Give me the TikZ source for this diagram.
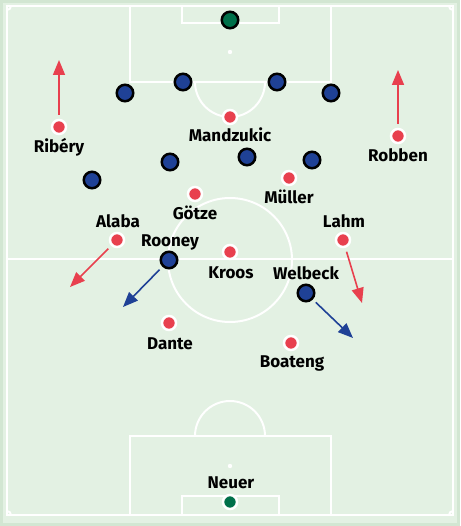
\documentclass[tikz,border=0pt]{standalone}
\usepackage{fontspec}
\setmainfont{Fira Sans}
\usetikzlibrary{arrows.meta}
\definecolor{rim}{HTML}{D2E6D2}
\definecolor{turf}{HTML}{E3F1E3}
\definecolor{fcb}{HTML}{E8404E}
\definecolor{mufc}{HTML}{1F4196}
\definecolor{keeper}{HTML}{00704A}
\begin{document}
\begin{tikzpicture}[x=1pt,y=-1pt,
	line/.style={white,line width=2pt},
	bay/.style={circle,fill=fcb,draw=white,line width=2.5pt,minimum size=14pt,inner sep=0pt},
	utd/.style={circle,fill=mufc,draw=black,line width=2.5pt,minimum size=16.5pt,inner sep=0pt},
	tag/.style={font=\fontsize{17}{20}\selectfont\bfseries,anchor=base,inner sep=0pt},
	run/.style={line width=1.6pt,-{Triangle[length=15pt,width=12pt]},shorten <=4pt}]
	% pitch
	\fill[rim] (0,0) rectangle (460,526);
	\fill[turf] (3,3) rectangle (457,523);
	\draw[line] (7,6) rectangle (453,515);
	\begin{scope}
		\clip (7,6) rectangle (453,515);
		\foreach \cx/\cy in {7/6,453/6,7/515,453/515}
			\draw[line] (\cx,\cy) circle (4);
	\end{scope}
	\draw[line] (7,259)--(453,259);
	\draw[line] (230,260) circle (62);
	\draw[line] (130,6) rectangle (331,82);
	\draw[line] (182,6) rectangle (279,23);
	\draw[line] (195,82) arc[start angle=180,end angle=0,radius=35];
	\fill[white] (230,52) circle (2.2);
	\draw[line] (130,515) rectangle (331,436);
	\draw[line] (182,515) rectangle (279,496);
	\draw[line] (195,436) arc[start angle=180,end angle=360,radius=35];
	\fill[white] (230,466) circle (2.2);
	% Manchester United
	\node[utd,fill=keeper] (dgea) at (230,20) {};
	\node[utd] (d1) at (125,93) {};
	\node[utd] (d2) at (183,82) {};
	\node[utd] (d3) at (277,82) {};
	\node[utd] (d4) at (331,93) {};
	\node[utd] (m1) at (92,180) {};
	\node[utd] (m2) at (170,162) {};
	\node[utd] (m3) at (247,157) {};
	\node[utd] (m4) at (312,160) {};
	\node[utd] (roo) at (169,260) {};
	\node[utd] (wel) at (306,293) {};
	% Bayern
	\node[bay] (rib) at (59,127) {};
	\node[bay] (man) at (230,117) {};
	\node[bay] (rob) at (398,136) {};
	\node[bay] (mul) at (289,178) {};
	\node[bay] (got) at (195,194) {};
	\node[bay] (ala) at (117,240) {};
	\node[bay] (lah) at (343,240) {};
	\node[bay] (kro) at (230,252) {};
	\node[bay] (dan) at (169,323) {};
	\node[bay] (boa) at (291,343) {};
	\node[bay,fill=keeper] (neu) at (230,502) {};
	% runs
	\coordinate (ribto) at (59,60);
	\coordinate (robto) at (398,70);
	\coordinate (alato) at (70,287);
	\coordinate (lahto) at (362,303);
	\coordinate (rooto) at (123,307);
	\coordinate (welto) at (353,338);
	\draw[run,fcb] (rib)--(ribto);
	\draw[run,fcb] (rob)--(robto);
	\draw[run,fcb] (ala)--(alato);
	\draw[run,fcb] (lah)--(lahto);
	\draw[run,mufc] (roo)--(rooto);
	\draw[run,mufc] (wel)--(welto);
	% names
	\node[tag] (ribL) at (59,153) {Ribéry};
	\node[tag] (manL) at (230,142) {Mandzukic};
	\node[tag] (robL) at (398,162) {Robben};
	\node[tag] (mulL) at (289,204) {Müller};
	\node[tag] (gotL) at (195,220) {Götze};
	\node[tag] (alaL) at (118,227) {Alaba};
	\node[tag] (lahL) at (344,227) {Lahm};
	\node[tag] (rooL) at (170,246) {Rooney};
	\node[tag] (kroL) at (231,278) {Kroos};
	\node[tag] (welL) at (306,279) {Welbeck};
	\node[tag] (danL) at (170,349) {Dante};
	\node[tag] (boaL) at (292,367) {Boateng};
	\node[tag] (neuL) at (231,488) {Neuer};
\end{tikzpicture}
\end{document}
